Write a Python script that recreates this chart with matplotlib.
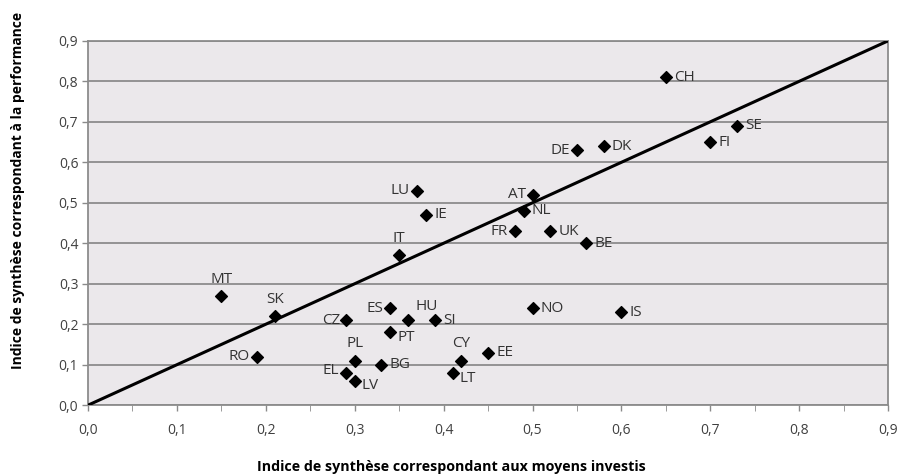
import matplotlib.pyplot as plt
import numpy as np

plt.rcParams['font.family'] = ['Open Sans', 'DejaVu Sans']

countries = ['CH', 'SE', 'FI', 'DE', 'DK', 'LU', 'AT', 'IE', 'NL', 'FR',
             'UK', 'BE', 'IT', 'MT', 'SK', 'ES', 'HU', 'CZ', 'SI', 'PT',
             'NO', 'IS', 'RO', 'PL', 'BG', 'EL', 'LV', 'CY', 'EE', 'LT']
moyens = [0.65, 0.73, 0.70, 0.55, 0.58, 0.37, 0.50, 0.38, 0.49, 0.48,
          0.52, 0.56, 0.35, 0.15, 0.21, 0.34, 0.36, 0.29, 0.39, 0.34,
          0.50, 0.60, 0.19, 0.30, 0.33, 0.29, 0.30, 0.42, 0.45, 0.41]
performance = [0.81, 0.69, 0.65, 0.63, 0.64, 0.53, 0.52, 0.47, 0.48, 0.43,
               0.43, 0.40, 0.37, 0.27, 0.22, 0.24, 0.21, 0.21, 0.21, 0.18,
               0.24, 0.23, 0.12, 0.11, 0.10, 0.08, 0.06, 0.11, 0.13, 0.08]

# label offsets (points) from the marker; default is to the right
label_pos = {
    'DE': (-5, 0), 'LU': (-5, 0), 'AT': (-5, 0), 'FR': (-5, 0),
    'ES': (-5, 0), 'CZ': (-4, 0), 'RO': (-5, 0), 'EL': (-5, 2),
    'IT': (0, 12), 'MT': (0, 12), 'SK': (0, 12), 'PL': (0, 12), 'CY': (0, 12),
    'HU': (5, 10), 'PT': (5, -4), 'LV': (5, -3), 'LT': (5, -4),
}

fig = plt.figure(figsize=(9.02, 4.75), dpi=100)
ax = fig.add_axes([0.0976, 0.147, 0.887, 0.767])
ax.set_facecolor('#ebe8eb')

ticks = np.arange(0, 0.91, 0.1)
ax.set_xlim(0, 0.9)
ax.set_ylim(0, 0.9)
ax.set_xticks(ticks)
ax.set_xticks(np.arange(0, 0.91, 0.05), minor=True)
ax.set_yticks(ticks)
ax.set_xticklabels([f'{v:.1f}'.replace('.', ',') for v in ticks])
ax.set_yticklabels([f'{v:.1f}'.replace('.', ',') for v in ticks])
ax.tick_params(colors='#8a8a8a', labelcolor='#404040', labelsize=10,
               length=4, width=1)
ax.tick_params(axis='x', which='minor', length=4, color='#8a8a8a')
ax.tick_params(axis='x', pad=9)
ax.tick_params(axis='y', pad=3)

ax.grid(axis='y', color='#8c8c8c', linewidth=1.3)
ax.set_axisbelow(True)
for s in ax.spines.values():
    s.set_color('#8c8c8c')
    s.set_linewidth(1.3)

ax.plot([0, 0.9], [0, 0.9], color='black', linewidth=2.2, zorder=3)
ax.scatter(moyens, performance, marker='D', s=36, color='black', zorder=4)

for c, x, y in zip(countries, moyens, performance):
    dx, dy = label_pos.get(c, (6, 0))
    ha = 'right' if dx < 0 else ('center' if dx == 0 else 'left')
    ax.annotate(c, (x, y), xytext=(dx, dy), textcoords='offset points',
                ha=ha, va='center', fontsize=11, color='#333333', zorder=5)

ax.set_xlabel('Indice de synthèse correspondant aux moyens investis',
              fontsize=10.3, fontweight='bold')
ax.set_ylabel('Indice de synthèse correspondant à la performance',
              fontsize=10, fontweight='bold')
ax.xaxis.set_label_coords(0.454, -0.15)
ax.yaxis.set_label_coords(-0.079, 0.59)

fig.savefig('out.png', dpi=100)
